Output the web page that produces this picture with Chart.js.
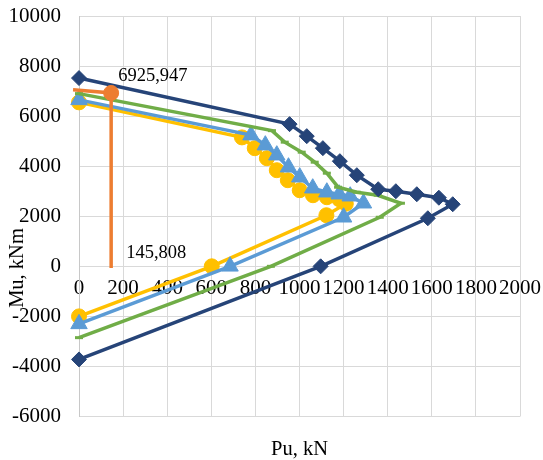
<!DOCTYPE html>
<html>
<head>
<meta charset="utf-8">
<script src="https://cdn.jsdelivr.net/npm/chart.js@4.4.1/dist/chart.umd.min.js"></script>
<style>
  html, body { margin: 0; padding: 0; background: #fff; }
</style>
</head>
<body>
<canvas id="chart" width="543" height="460"></canvas>
<script>
// interaction diagram, Pu (kN) vs Mu (kNm)
const navyPu = [0, 955, 1033, 1106, 1183, 1260, 1357, 1437, 1532, 1632, 1695, 1582, 1096, 0];
const navyMu = [7520, 5680, 5200, 4720, 4200, 3640, 3080, 3000, 2880, 2740, 2480, 1920, 0, -3720];

const greenPu = [0, 875, 933, 1010, 1069, 1124, 1175, 1260, 1355, 1460, 1364, 870, 0];
const greenMu = [6900, 5420, 4960, 4560, 4160, 3720, 3160, 2960, 2840, 2520, 1960, 0, -2850];

const bluePu = [0, 780, 845, 897, 950, 1001, 1060, 1124, 1180, 1230, 1290, 1200, 685, 0];
const blueMu = [6650, 5240, 4840, 4440, 3960, 3560, 3120, 2960, 2880, 2800, 2520, 1960, 0, -2300];

const yellowPu = [0, 739, 797, 852, 897, 947, 1001, 1061, 1124, 1180, 1210, 1122, 602, 0];
const yellowMu = [6550, 5150, 4720, 4320, 3840, 3440, 3040, 2840, 2760, 2680, 2500, 2040, 0, -2000];

const orangePu = [-27, 145.808, 145.808];
const orangeMu = [7050, 6925.947, -70];
const orangeLabels = ['', '6925,947', '145,808'];

const xTicks = [0, 200, 400, 600, 800, 1000, 1200, 1400, 1600, 1800, 2000];
const yTicks = [-6000, -4000, -2000, 0, 2000, 4000, 6000, 8000, 10000];

const FONT = '"Liberation Serif", "Times New Roman", serif';

function points(xs, ys) {
    return xs.map((x, i) => ({ x, y: ys[i] }));
}

function series(data, color, style, radius, extra) {
    return Object.assign({
        data,
        showLine: true,
        clip: false,
        borderColor: color,
        backgroundColor: color,
        borderWidth: 3.5,
        pointStyle: style,
        pointRadius: radius,
        pointBorderWidth: 1,
        pointBackgroundColor: color,
        pointBorderColor: color
    }, extra || {});
}

function noScalePadding(s) {
    s.paddingTop = 0;
    s.paddingBottom = 0;
    s.paddingLeft = 0;
    s.paddingRight = 0;
}

/* Texts: point labels and axis titles */

const textPlugin = {
    id: 'textPlugin',
    afterDatasetsDraw(chart) {
        const ctx = chart.ctx;
        const meta = chart.getDatasetMeta(0);
        ctx.save();
        ctx.fillStyle = '#000';
        ctx.font = '18.5px ' + FONT;
        ctx.textAlign = 'left';
        ctx.textBaseline = 'middle';
        const pt1 = meta.data[1];
        const pt2 = meta.data[2];
        ctx.fillText(orangeLabels[1], pt1.x + 7, pt1.y - 17);
        ctx.fillText(orangeLabels[2], pt2.x + 15, pt2.y - 15);

        const area = chart.chartArea;
        ctx.font = '20.5px ' + FONT;
        ctx.textAlign = 'center';
        ctx.textBaseline = 'alphabetic';
        ctx.fillText('Pu, kN', (area.left + area.right) / 2, 455);

        ctx.translate(23, 268);
        ctx.rotate(-Math.PI / 2);
        ctx.fillText('Mu, kNm', 0, 0);
        ctx.restore();
    }
};

new Chart(document.getElementById('chart'), {
    type: 'scatter',
    data: {
        datasets: [
            series(points(orangePu, orangeMu), '#ED7D31', 'circle', [0, 7.5, 0]),
            series(points(navyPu, navyMu), '#264478', 'rectRot', 7.5),
            series(points(greenPu, greenMu), '#70AD47', 'line', 4, { pointBorderWidth: 3 }),
            series(points(bluePu, blueMu), '#5B9BD5', 'triangle', 9.5),
            series(points(yellowPu, yellowMu), '#FFC000', 'circle', 7.5)
        ]
    },
    options: {
        responsive: false,
        animation: false,
        layout: { padding: { left: 0, right: 23, top: 16, bottom: 43.5 } },
        plugins: {
            legend: { display: false },
            tooltip: { enabled: false }
        },
        scales: {
            x: {
                type: 'linear',
                position: { y: 0 },
                min: 0,
                max: 2000,
                afterBuildTicks: s => { s.ticks = xTicks.map(v => ({ value: v })); },
                afterFit: noScalePadding,
                ticks: {
                    autoSkip: false,
                    maxRotation: 0,
                    minRotation: 0,
                    padding: 10,
                    color: '#000',
                    font: { family: FONT, size: 21 },
                    callback: v => String(v)
                },
                grid: { color: '#d9d9d9', lineWidth: 1, drawTicks: false },
                border: { color: '#d9d9d9', width: 1 }
            },
            y: {
                type: 'linear',
                min: -6000,
                max: 10000,
                afterBuildTicks: s => { s.ticks = yTicks.map(v => ({ value: v })); },
                afterFit: s => { s.width = 79; noScalePadding(s); },
                ticks: {
                    padding: 18,
                    color: '#000',
                    font: { family: FONT, size: 21 },
                    callback: v => String(v)
                },
                grid: { color: '#d9d9d9', lineWidth: 1, drawTicks: false },
                border: { color: '#c8c8c8', width: 1 }
            }
        }
    },
    plugins: [textPlugin]
});
</script>
</body>
</html>
